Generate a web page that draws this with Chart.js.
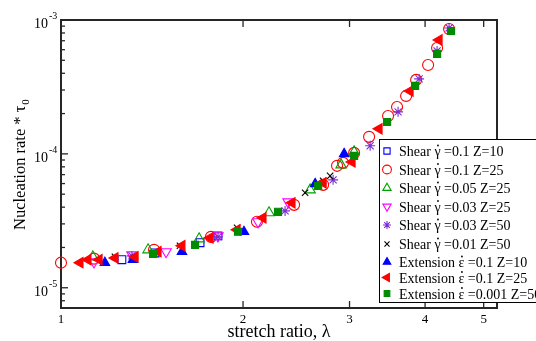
<!DOCTYPE html>
<html>
<head>
<meta charset="utf-8">
<script src="https://cdn.jsdelivr.net/npm/chart.js@4"></script>
<style>
  html, body { margin: 0; padding: 0; background: #fff; }
  canvas { display: block; }
</style>
</head>
<body>
<canvas id="chart" width="536" height="341"></canvas>
<script>
// series (stretch ratio, nucleation rate * tau0)
const shear01z10X = [1.261, 1.431, 1.698, 1.818]
const shear01z10Y = [1.62e-5, 1.82e-5, 2.17e-5, 2.44e-5]

const shear01z25X = [1.000, 1.134, 1.425, 1.770, 2.109, 2.429, 2.713, 2.861, 2.927, 3.053, 3.232, 3.474, 3.595, 3.721, 3.866, 4.046, 4.187, 4.383]
const shear01z25Y = [1.54e-5, 1.65e-5, 1.92e-5, 2.40e-5, 3.11e-5, 4.16e-5, 5.87e-5, 8.14e-5, 8.57e-5, 1.017e-4, 1.34e-4, 1.92e-4, 2.24e-4, 2.71e-4, 3.57e-4, 4.61e-4, 6.18e-4, 8.57e-4]

const shear005z25X = [1.129, 1.393, 1.692, 2.208, 2.582, 2.905, 3.053]
const shear005z25Y = [1.70e-5, 1.92e-5, 2.32e-5, 3.63e-5, 5.38e-5, 8.28e-5, 1.035e-4]

const shear003z25X = [1.134, 1.310, 1.492, 1.818, 2.117, 2.374]
const shear003z25Y = [1.56e-5, 1.76e-5, 1.86e-5, 2.44e-5, 3.11e-5, 4.38e-5]

const shear003z50X = [1.310, 1.818, 2.347, 2.818, 3.245, 3.609, 3.910, 4.187, 4.383]
const shear003z50Y = [1.73e-5, 2.40e-5, 3.75e-5, 6.40e-5, 1.15e-4, 2.06e-4, 3.63e-4, 5.87e-4, 8.72e-4]

const shear001z50X = [1.228, 1.573, 1.955, 2.533, 2.713, 2.786]
const shear001z50Y = [1.70e-5, 2.06e-5, 2.80e-5, 5.12e-5, 6.29e-5, 6.85e-5]

const ext01z10X = [1.182, 1.315, 1.585, 2.007, 2.632, 2.939]
const ext01z10Y = [1.54e-5, 1.62e-5, 1.86e-5, 2.62e-5, 5.97e-5, 1.0e-4]

const ext01z25X = [1.075, 1.108, 1.156, 1.228, 1.326, 1.447, 1.585, 1.764, 1.955, 2.158, 2.410, 2.713, 3.029, 3.357, 3.778, 4.219]
const ext01z25Y = [1.54e-5, 1.62e-5, 1.62e-5, 1.67e-5, 1.70e-5, 1.86e-5, 2.06e-5, 2.36e-5, 2.71e-5, 3.33e-5, 4.31e-5, 6.08e-5, 8.71e-5, 1.54e-4, 2.95e-4, 7.09e-4]

const ext0001z50X = [1.420, 1.666, 1.962, 2.285, 2.662, 3.053, 3.461, 3.851, 4.187, 4.416]
const ext0001z50Y = [1.79e-5, 2.09e-5, 2.62e-5, 3.69e-5, 5.77e-5, 9.66e-5, 1.73e-4, 3.22e-4, 5.58e-4, 8.28e-4]

// legend labels: [prefix, dotted greek letter, rest]
const seriesLabels = [
    ['Shear ', 'γ', ' =0.1 Z=10'],
    ['Shear ', 'γ', ' =0.1 Z=25'],
    ['Shear ', 'γ', ' =0.05 Z=25'],
    ['Shear ', 'γ', ' =0.03 Z=25'],
    ['Shear ', 'γ', ' =0.03 Z=50'],
    ['Shear ', 'γ', ' =0.01 Z=50'],
    ['Extension ', 'ε', ' =0.1 Z=10'],
    ['Extension ', 'ε', ' =0.1 Z=25'],
    ['Extension ', 'ε', ' =0.001 Z=50']
]

const xTickValues = [1, 2, 3, 4, 5]
const yDecades = [-3, -4, -5]

const xMin = 1
const xMax = 5.26
const yMin = 7.06e-6
const yMax = 1e-3

const serif = '"Liberation Serif", "DejaVu Serif", serif'

const toPoints = (xs, ys) => xs.map((x, i) => ({ x, y: ys[i] }))

const series = [
    { xs: shear01z10X, ys: shear01z10Y, style: 'rect', radius: 5.5, color: '#0000ff', filled: false },
    { xs: shear01z25X, ys: shear01z25Y, style: 'circle', radius: 5.5, color: '#ff0000', filled: false },
    { xs: shear005z25X, ys: shear005z25Y, style: 'triangle', radius: 6, color: '#00a000', filled: false },
    { xs: shear003z25X, ys: shear003z25Y, style: 'triangle', rotation: 180, radius: 6, color: '#ff00ff', filled: false },
    { xs: shear003z50X, ys: shear003z50Y, style: 'star', radius: 5, color: '#7b2fd0', filled: false },
    { xs: shear001z50X, ys: shear001z50Y, style: 'crossRot', radius: 4.5, color: '#000000', filled: false },
    { xs: ext01z10X, ys: ext01z10Y, style: 'triangle', radius: 5.5, color: '#0000ff', filled: true },
    { xs: ext01z25X, ys: ext01z25Y, style: 'triangle', rotation: -90, radius: 6, color: '#ff0000', filled: true },
    { xs: ext0001z50X, ys: ext0001z50Y, style: 'rect', radius: 5, color: '#008b00', filled: true }
]

const datasets = series.map((s, i) => ({
    label: seriesLabels[i].join(''),
    data: toPoints(s.xs, s.ys),
    pointStyle: s.style,
    pointRotation: s.rotation || 0,
    pointRadius: s.radius,
    pointHoverRadius: s.radius,
    pointBorderWidth: 1.1,
    borderColor: s.color,
    backgroundColor: s.filled ? s.color : 'rgba(0,0,0,0)',
    clip: false,
    order: -i
}))

const line = (ctx, x1, y1, x2, y2) => {
    ctx.beginPath()
    ctx.moveTo(x1, y1)
    ctx.lineTo(x2, y2)
    ctx.stroke()
}

const framePlugin = {
    id: 'frame',
    beforeDatasetsDraw(chart) {
        const { ctx, chartArea: a, scales: { x, y } } = chart
        ctx.save()
        ctx.strokeStyle = '#262626'
        ctx.lineWidth = 2
        ctx.strokeRect(a.left, a.top, a.right - a.left, a.bottom - a.top)

        ctx.lineWidth = 1.3
        xTickValues.forEach(v => {
            const px = x.getPixelForValue(v)
            line(ctx, px, a.bottom, px, a.bottom - 7)
            line(ctx, px, a.top, px, a.top + 7)
        })
        yDecades.forEach(e => {
            const py = y.getPixelForValue(Math.pow(10, e))
            line(ctx, a.left, py, a.left + 7, py)
        })
        // minor ticks 2..9 x 10^n
        for (let e = -6; e <= -4; e++) {
            for (let m = 2; m <= 9; m++) {
                const v = m * Math.pow(10, e)
                if (v < yMin || v > yMax) continue
                const py = y.getPixelForValue(v)
                line(ctx, a.left, py, a.left + 4, py)
            }
        }
        ctx.restore()
    },
    afterDraw(chart) {
        const { ctx, chartArea: a, scales: { x, y } } = chart
        ctx.save()
        ctx.fillStyle = '#000'

        // x tick labels
        ctx.font = '13px ' + serif
        ctx.textAlign = 'center'
        ctx.textBaseline = 'alphabetic'
        xTickValues.forEach(v => {
            ctx.fillText(String(v), x.getPixelForValue(v), a.bottom + 15)
        })

        // y tick labels 10^e
        yDecades.forEach(e => {
            const py = y.getPixelForValue(Math.pow(10, e))
            ctx.font = '14px ' + serif
            ctx.textAlign = 'right'
            ctx.fillText('10', 48, py + 8)
            ctx.font = '10px ' + serif
            ctx.textAlign = 'left'
            ctx.fillText(String(e), 49, py - 1)
        })

        // x title
        ctx.font = '18px ' + serif
        ctx.textAlign = 'center'
        ctx.fillText('stretch ratio, λ', (a.left + a.right) / 2, 337)

        // y title
        ctx.save()
        ctx.translate(25, 230)
        ctx.rotate(-Math.PI / 2)
        ctx.font = '16.5px ' + serif
        ctx.textAlign = 'left'
        const yTitle = 'Nucleation rate * τ'
        ctx.fillText(yTitle, 0, 0)
        const w = ctx.measureText(yTitle).width
        ctx.font = '11px ' + serif
        ctx.fillText('0', w + 1, 4)
        ctx.restore()

        // legend
        const box = { left: 379, top: 139, right: 560, bottom: 302 }
        const rowY = [151, 169.5, 188, 206.5, 225, 244, 262, 277.5, 293.5]
        ctx.fillStyle = '#fff'
        ctx.fillRect(box.left, box.top, box.right - box.left, box.bottom - box.top)
        ctx.strokeStyle = '#000'
        ctx.lineWidth = 1
        ctx.strokeRect(box.left + 0.5, box.top + 0.5, box.right - box.left, box.bottom - box.top)

        series.forEach((s, i) => {
            const cy = rowY[i]
            ctx.save()
            ctx.strokeStyle = s.color
            ctx.fillStyle = s.filled ? s.color : 'rgba(0,0,0,0)'
            ctx.lineWidth = 1.1
            Chart.helpers.drawPoint(ctx, {
                pointStyle: s.style,
                rotation: s.rotation || 0,
                radius: s.radius * 0.8,
                borderWidth: 1.1
            }, 387, cy)
            ctx.restore()

            const [pre, greek, rest] = seriesLabels[i]
            ctx.font = '14px ' + serif
            ctx.fillStyle = '#000'
            ctx.textAlign = 'left'
            let tx = 399
            const base = cy + 5
            ctx.fillText(pre, tx, base)
            tx += ctx.measureText(pre).width
            ctx.fillText(greek, tx, base)
            const gw = ctx.measureText(greek).width
            ctx.beginPath()
            ctx.arc(tx + gw / 2 + 0.5, base - 10.5, 0.9, 0, Math.PI * 2)
            ctx.fill()
            tx += gw
            ctx.fillText(rest, tx, base)
        })
        ctx.restore()
    }
}

new Chart(document.getElementById('chart').getContext('2d'), {
    type: 'scatter',
    data: { datasets },
    options: {
        responsive: false,
        animation: false,
        devicePixelRatio: 1,
        layout: { padding: { left: 61, top: 20, right: 39, bottom: 33 } },
        plugins: { legend: { display: false }, tooltip: { enabled: false } },
        scales: {
            x: { type: 'logarithmic', min: xMin, max: xMax, display: false },
            y: { type: 'logarithmic', min: yMin, max: yMax, display: false }
        }
    },
    plugins: [framePlugin]
})
</script>
</body>
</html>
